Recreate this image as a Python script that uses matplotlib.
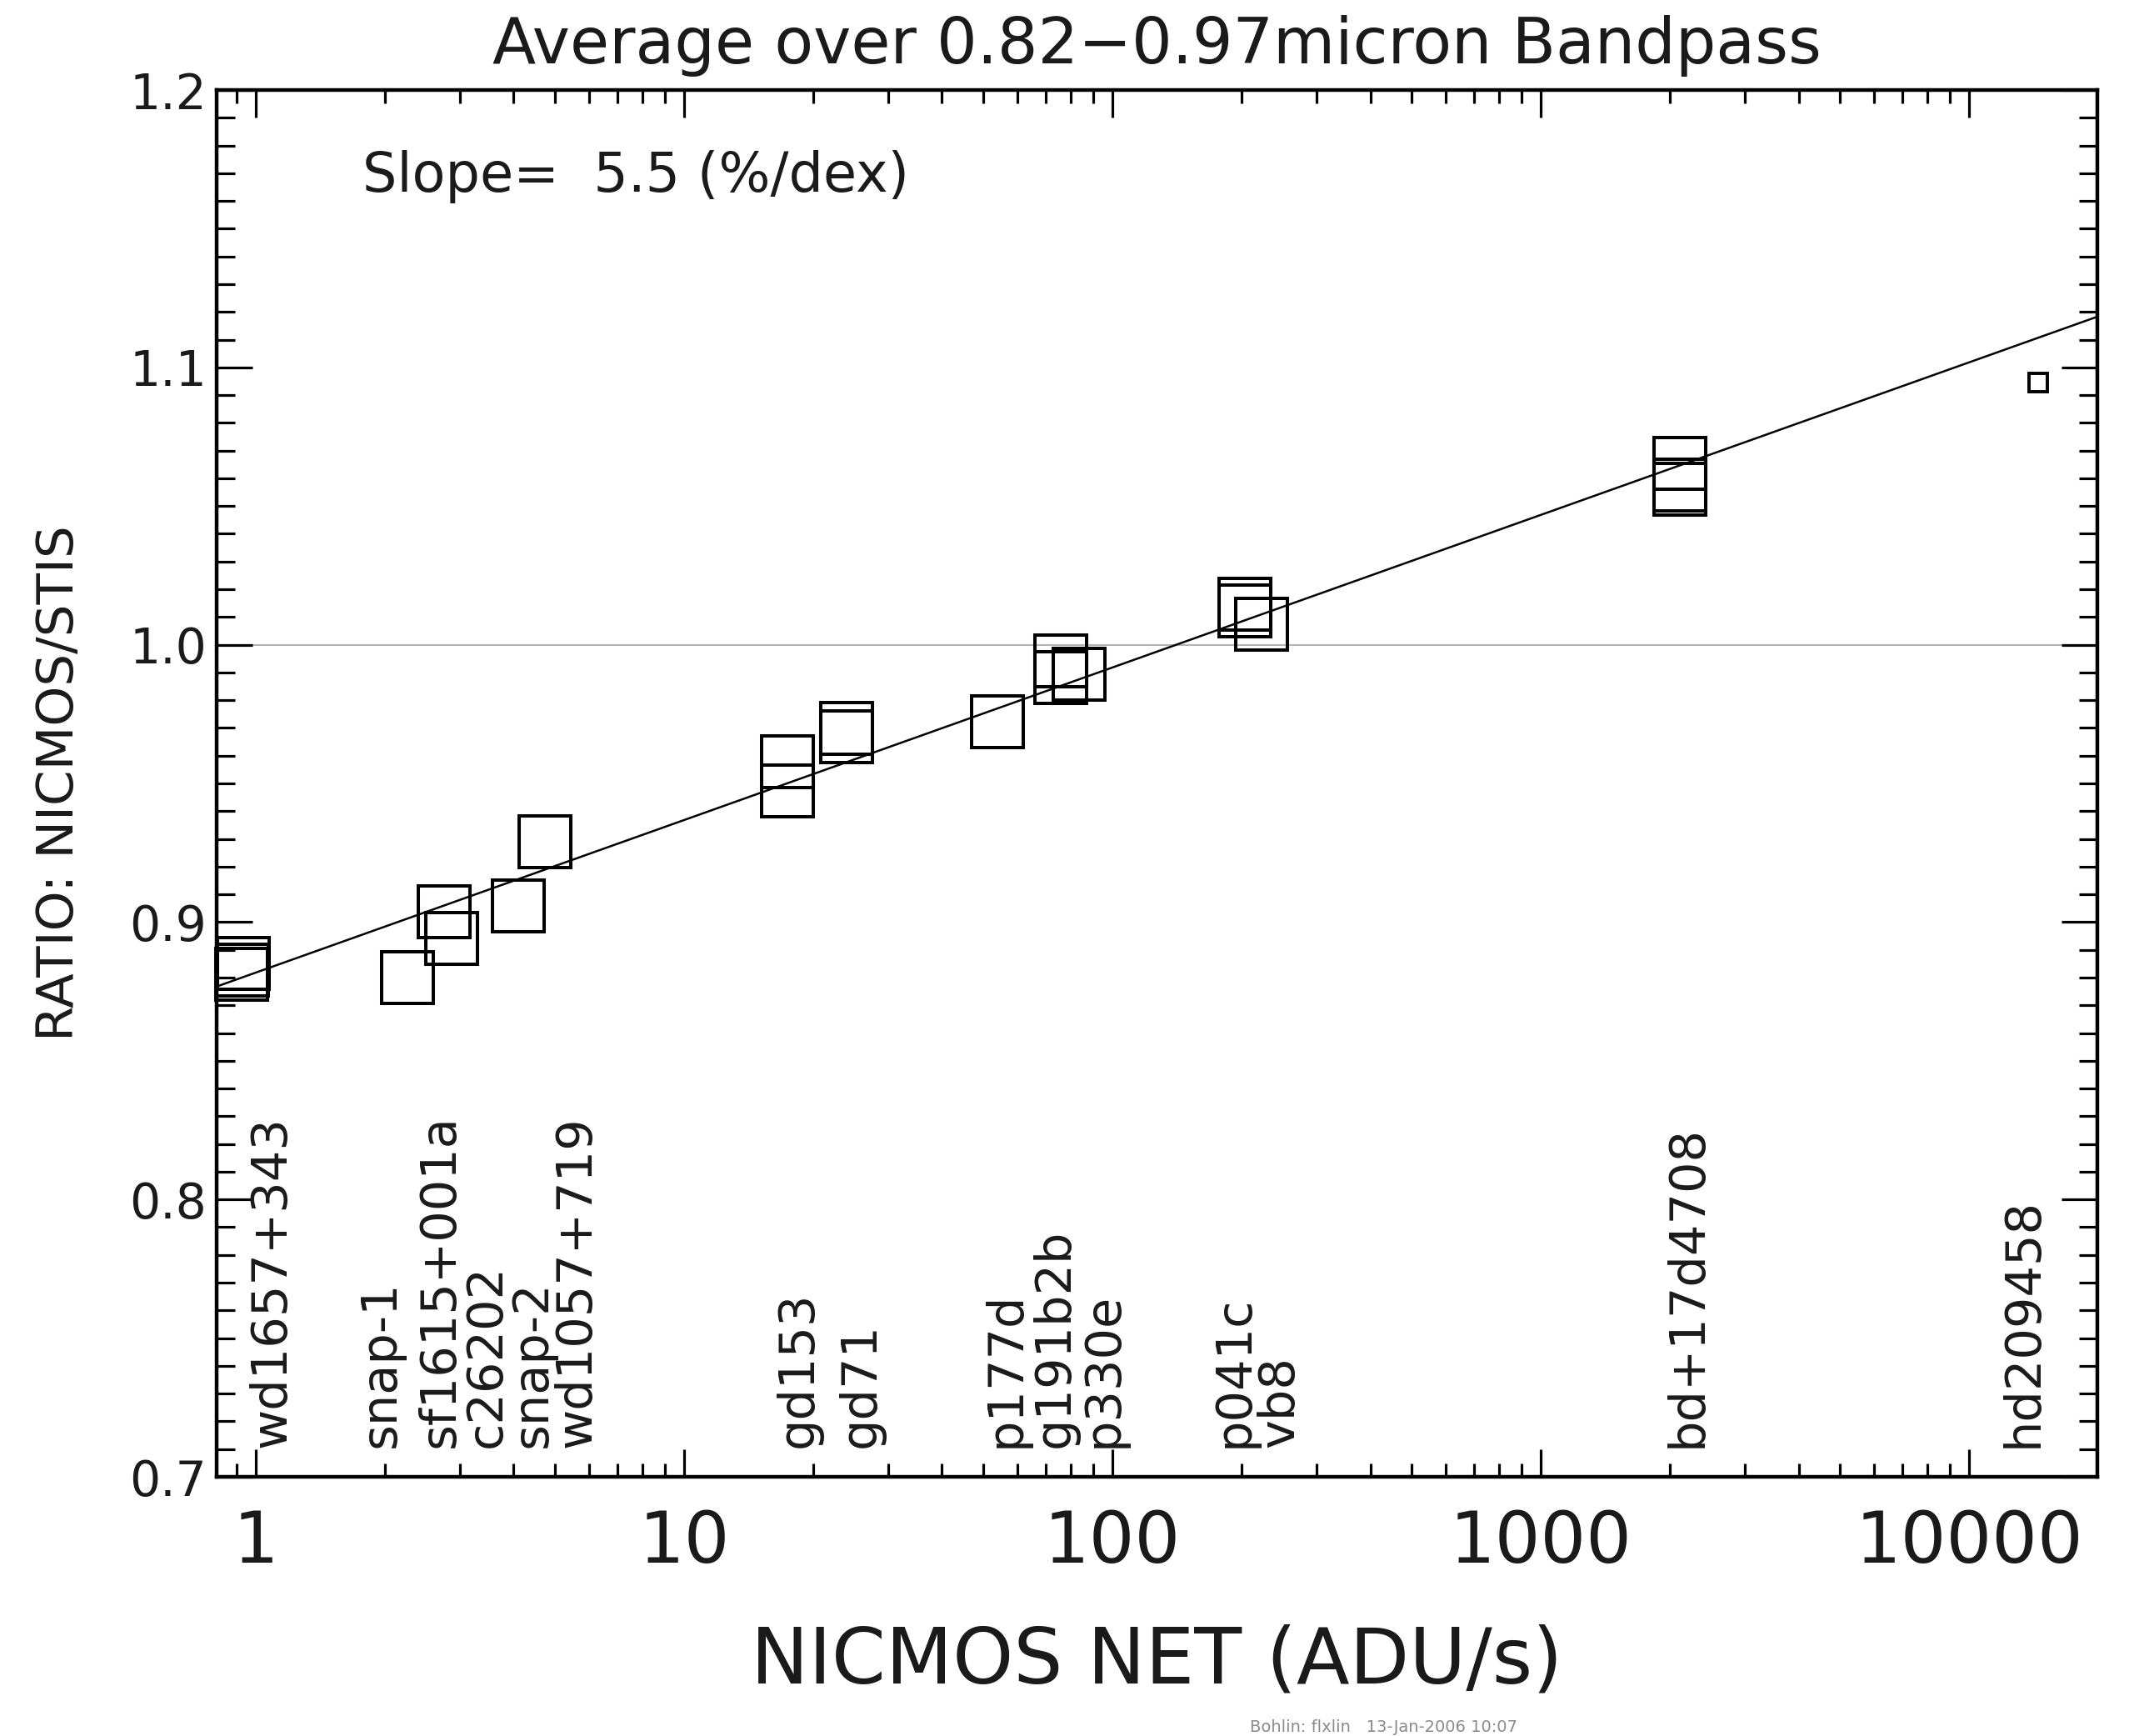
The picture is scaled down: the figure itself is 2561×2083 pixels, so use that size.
import matplotlib
matplotlib.use("Agg")
import matplotlib.pyplot as plt
import matplotlib.ticker as mticker
import numpy as np

# ---------------- data ----------------
# star names and positions of their vertical labels (x in ADU/s)
star_names = ["wd1657+343", "snap-1", "sf1615+001a", "c26202", "snap-2",
              "wd1057+719", "gd153", "gd71", "p177d", "g191b2b", "p330e",
              "p041c", "vb8", "bd+17d4708", "hd209458"]
label_x = [1.09, 1.96, 2.69, 3.46, 4.43, 5.61, 18.5, 25.9, 56.4, 73.4,
           95.4, 192.4, 246.0, 2199.0, 13380.0]
label_y = 0.7105

# individual observations (NICMOS net rate, NICMOS/STIS ratio)
obs_net = [0.935, 0.930, 0.928,          # wd1657+343
           2.26,                          # snap-1
           2.75,                          # sf1615+001a
           2.86,                          # c26202
           4.10,                          # snap-2
           4.73,                          # wd1057+719
           17.4, 17.4,                    # gd153
           24.0, 24.0,                    # gd71
           54.0,                          # p177d
           75.9, 75.9,                    # g191b2b
           83.6,                          # p330e
           203.9, 203.9,                  # p041c
           223.4,                         # vb8
           2114.0, 2114.0, 2114.0]        # bd+17d4708
obs_ratio = [0.8851, 0.8827, 0.8812,
             0.8800,
             0.9037,
             0.8941,
             0.9059,
             0.9290,
             0.9578, 0.9473,
             0.9698, 0.9668,
             0.9722,
             0.9942, 0.9883,
             0.9894,
             1.0122, 1.0146,
             1.0074,
             1.0654, 1.0576, 1.0561]

# hd209458 (drawn with a small symbol)
small_net = [14480.0]
small_ratio = [1.0945]

# linear fit in log10(net): ratio = intercept + slope*log10(net)
fit_slope = 0.055
fit_intercept = 0.8818

xlim = (0.81, 19930.0)
ylim = (0.7, 1.2)
x_ticks = [1, 10, 100, 1000, 10000]
y_ticks = [0.7, 0.8, 0.9, 1.0, 1.1, 1.2]

# ---------------- figure ----------------
plt.rcParams['font.family'] = ['DejaVu Sans']
fig = plt.figure(figsize=(25.61, 20.83), dpi=100)
ax = fig.add_axes([0.10152, 0.14930, 0.88130, 0.79885])

ax.set_xscale('log')
ax.set_xlim(*xlim)
ax.set_ylim(*ylim)

txt_color = '#1a1a1a'

# reference line at 1.0
ax.axhline(1.0, color='#b4b4b4', lw=1.5, zorder=1)

# fit line
xf = np.array(xlim)
ax.plot(xf, fit_intercept + fit_slope * np.log10(xf), color='black', lw=1.8, zorder=2)

# data squares
ax.plot(obs_net, obs_ratio, linestyle='none', marker='s', ms=44.0,
        mfc='none', mec='black', mew=2.9, clip_on=False, zorder=3)
ax.plot(small_net, small_ratio, linestyle='none', marker='s', ms=16.0,
        mfc='none', mec='black', mew=2.8, clip_on=False, zorder=3)

# star labels
for name, lx in zip(star_names, label_x):
    ax.text(lx, label_y, name, rotation=90, ha='center', va='bottom',
            fontsize=42.5, color=txt_color)

# slope annotation
ax.text(0.2229, 0.9375, "Slope=  5.5 (%/dex)", transform=ax.transAxes,
        ha='center', va='center', fontsize=47, color=txt_color)

# ticks
ax.xaxis.set_major_locator(mticker.FixedLocator(x_ticks))
ax.xaxis.set_major_formatter(mticker.FuncFormatter(lambda v, p: f"{v:g}"))
ax.xaxis.set_minor_locator(mticker.LogLocator(base=10, subs=np.arange(2, 10), numticks=20))
ax.xaxis.set_minor_formatter(mticker.NullFormatter())
ax.yaxis.set_major_locator(mticker.FixedLocator(y_ticks))
ax.yaxis.set_major_formatter(mticker.FormatStrFormatter('%.1f'))
ax.yaxis.set_minor_locator(mticker.MultipleLocator(0.01))

ax.tick_params(which='both', direction='in', top=True, right=True, width=2.3,
               color='black', labelcolor=txt_color)
ax.tick_params(axis='x', which='major', length=24, labelsize=62, pad=27)
ax.tick_params(axis='x', which='minor', length=11.5)
ax.tick_params(axis='y', which='major', length=31, labelsize=42, pad=8.6)
ax.tick_params(axis='y', which='minor', length=16)

for sp in ax.spines.values():
    sp.set_linewidth(3.2)

# labels and title
ax.set_xlabel("NICMOS NET (ADU/s)", fontsize=67, color=txt_color)
ax.xaxis.set_label_coords(0.5, -0.106)
ax.set_ylabel("RATIO: NICMOS/STIS", fontsize=44, color=txt_color)
ax.yaxis.set_label_coords(-0.0704, 0.5)
ax.set_title("Average over 0.82\u22120.97micron Bandpass", fontsize=55, pad=23, color=txt_color)

# footer stamp
fig.text(1660 / 2561, 1 - 2073 / 2083, "Bohlin: flxlin   13-Jan-2006 10:07",
         ha='center', va='center', fontsize=14, color='#8a8a8a')

fig.savefig("out.png", dpi=100)
